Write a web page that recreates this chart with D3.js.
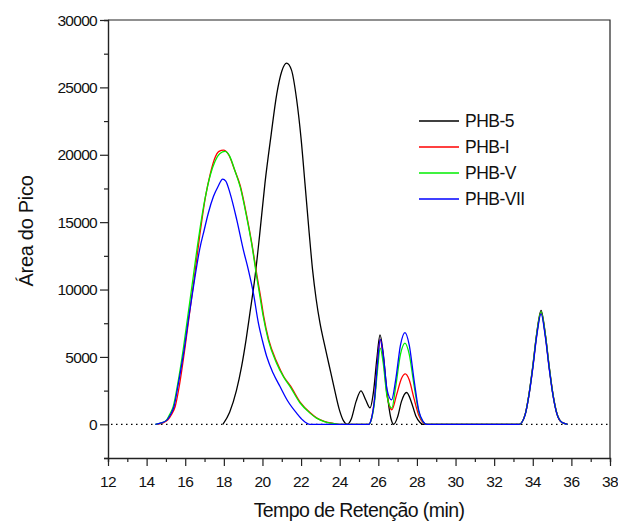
<!DOCTYPE html>
<html>
<head>
<meta charset="utf-8">
<script src="https://cdn.jsdelivr.net/npm/d3@7"></script>
<style>
  html, body { margin: 0; padding: 0; background: #fff; }
  svg { display: block; }
  text { font-family: Arial, "Liberation Sans", sans-serif; fill: #111; }
</style>
</head>
<body>
<svg id="chart" width="618" height="524"></svg>
<script>
// ---- data (retention time in min, peak area) ----
const seriesNames = ["PHB-5", "PHB-I", "PHB-V", "PHB-VII"];
const seriesColors = ["#000000", "#ff0000", "#00ee00", "#0000ff"];

const phb5 = [
  [17.95,0],[18.3,900],[18.65,2500],[18.92,4300],[19.15,6270],[19.35,8250],[19.61,10900],
  [19.85,14000],[20.13,17900],[20.45,21500],[20.74,24500],[21.0,26200],[21.25,26800],
  [21.5,26300],[21.77,24100],[22.0,21200],[22.2,17900],[22.42,14200],[22.6,11400],
  [22.78,9300],[22.98,7500],[23.2,6000],[23.45,4400],[23.7,2800],[24.0,1000],[24.2,250],[24.38,0],
  [24.6,400],[24.85,1700],[25.1,2480],[25.35,1800],[25.57,1220],[25.75,2400],[25.92,4800],
  [26.09,6640],[26.25,5300],[26.45,2400],[26.65,450],[26.8,0],[27.0,550],[27.2,1700],
  [27.47,2360],[27.7,1700],[27.95,600],[28.15,150],[28.3,0],[33.3,0],[33.6,700],[33.8,2200],
  [34.0,4300],[34.2,6700],[34.43,8450],[34.65,6700],[34.85,4300],[35.05,2200],[35.25,800],
  [35.5,150],[35.8,0]
];
const phbI = [
  [14.55,0],[14.85,100],[15.1,330],[15.3,750],[15.48,1320],[15.7,2900],[15.98,5600],
  [16.22,8200],[16.48,11000],[16.75,14000],[17.05,16900],[17.3,18600],
  [17.52,19700],[17.75,20250],[17.98,20350],[18.25,20000],[18.55,18900],[18.85,17700],
  [19.18,15500],[19.44,13500],[19.72,11000],[19.9,9500],[20.06,8050],[20.32,6300],
  [20.75,4600],[21.1,3550],[21.45,2850],[21.95,1650],[22.46,870],[22.8,480],[23.2,220],
  [23.65,70],[24.0,0],[25.5,0],[25.65,450],[25.8,1800],[25.95,4400],[26.1,6300],[26.25,5000],
  [26.45,2200],[26.7,1080],[26.95,2200],[27.2,3400],[27.4,3740],[27.6,3300],[27.85,1900],
  [28.1,650],[28.3,150],[28.5,0],[33.3,0],[33.6,700],[33.8,2150],[34.0,4200],[34.2,6600],
  [34.43,8300],[34.65,6600],[34.85,4200],[35.05,2150],[35.25,780],[35.5,150],[35.8,0]
];
const phbV = [
  [14.45,0],[14.75,100],[15.04,330],[15.2,750],[15.38,1320],[15.6,2900],[15.9,5600],
  [16.15,8200],[16.42,11000],[16.7,13900],[17.02,16700],[17.3,18500],
  [17.54,19500],[17.8,20100],[18.06,20250],[18.3,19900],[18.6,18700],[18.85,17600],
  [19.18,15400],[19.44,13400],[19.7,10960],[19.87,9480],[20.04,8000],[20.3,6270],
  [20.73,4540],[21.1,3500],[21.43,2800],[21.94,1600],[22.46,830],[22.8,460],[23.2,200],
  [23.65,60],[24.0,0],[25.5,0],[25.65,400],[25.8,1600],[25.95,3900],[26.1,5650],[26.25,4600],
  [26.45,2100],[26.7,1200],[26.9,2800],[27.15,5200],[27.38,6020],[27.6,5200],[27.85,2900],
  [28.1,900],[28.3,220],[28.5,0],[33.3,0],[33.6,700],[33.8,2170],[34.0,4250],[34.2,6650],
  [34.43,8350],[34.65,6650],[34.85,4250],[35.05,2170],[35.25,790],[35.5,150],[35.8,0]
];
const phbVII = [
  [14.45,0],[14.75,100],[15.06,330],[15.25,750],[15.42,1320],[15.63,2900],[15.95,5600],
  [16.2,8100],[16.5,10900],[16.75,13000],[16.98,14400],[17.2,15700],[17.46,16900],
  [17.7,17650],[17.94,18200],[18.1,18050],[18.32,17150],[18.67,15170],[19.01,12940],
  [19.27,11460],[19.53,9730],[19.79,7510],[20.0,6200],[20.22,5030],[20.55,3800],
  [20.91,2800],[21.3,1750],[21.77,830],[22.1,300],[22.46,0],[25.5,0],[25.65,450],
  [25.8,1800],[25.95,4400],[26.1,6300],[26.25,5200],[26.45,2600],[26.69,1820],[26.9,3300],
  [27.15,5900],[27.38,6810],[27.6,5900],[27.85,3300],[28.1,1000],[28.3,250],[28.5,0],
  [33.3,0],[33.6,680],[33.8,2120],[34.0,4150],[34.2,6500],[34.43,8200],[34.65,6500],
  [34.85,4150],[35.05,2120],[35.25,770],[35.5,150],[35.8,0]
];
const allSeries = [phb5, phbI, phbV, phbVII];

const xMajorTicks = [12,14,16,18,20,22,24,26,28,30,32,34,36,38];
const yMajorTicks = [0,5000,10000,15000,20000,25000,30000];

// ---- layout ----
const svg = d3.select("#chart");
const mLeft = 108, mRight = 610, mTop = 20, mBottom = 458;

const x = d3.scaleLinear().domain([12, 38]).range([mLeft, mRight]);
const y = d3.scaleLinear().domain([-2500, 30000]).range([mBottom, mTop]);

// frame (top and right)
svg.append("path")
  .attr("d", `M${mLeft},${mTop}H${mRight}V${mBottom}`)
  .attr("fill", "none").attr("stroke", "#222").attr("stroke-width", 1.2);

// x axis
const xAxis = svg.append("g").attr("transform", `translate(0,${mBottom})`);
xAxis.call(d3.axisBottom(x).tickValues(d3.range(12, 39, 1)).tickSize(4).tickFormat(""));
xAxis.call(g => g.selectAll(".tick").filter(d => d % 2 === 0).select("line").attr("y2", 8));
xAxis.selectAll(".tick text").remove();
xAxis.call(g => g.select(".domain").attr("stroke", "#222").attr("stroke-width", 1.4));
xAxis.selectAll(".tick line").attr("stroke", "#222").attr("stroke-width", 1.2);
xAxis.selectAll(".xlbl").data(xMajorTicks).enter().append("text")
  .attr("class", "xlbl")
  .attr("x", d => x(d)).attr("y", 29)
  .attr("text-anchor", "middle")
  .style("font-size", "15.5px").style("letter-spacing", "-0.6px")
  .text(d => d);

// y axis
const yAxis = svg.append("g").attr("transform", `translate(${mLeft},0)`);
yAxis.call(d3.axisLeft(y).tickValues(d3.range(-2500, 30001, 2500)).tickSize(4).tickFormat(""));
yAxis.call(g => g.selectAll(".tick").filter(d => d % 5000 === 0).select("line").attr("x2", -8));
yAxis.selectAll(".tick text").remove();
yAxis.call(g => g.select(".domain").attr("stroke", "#222").attr("stroke-width", 1.4));
yAxis.selectAll(".tick line").attr("stroke", "#222").attr("stroke-width", 1.2);
yAxis.selectAll(".ylbl").data(yMajorTicks).enter().append("text")
  .attr("class", "ylbl")
  .attr("x", -11).attr("y", d => y(d)).attr("dy", "0.36em")
  .attr("text-anchor", "end")
  .style("font-size", "15.5px").style("letter-spacing", "-0.7px")
  .text(d => d);

// axis titles
svg.append("text")
  .attr("x", (mLeft + mRight) / 2).attr("y", 517)
  .attr("text-anchor", "middle")
  .style("font-size", "19.5px").style("letter-spacing", "-0.6px")
  .text("Tempo de Retenção (min)");
svg.append("text")
  .attr("transform", `translate(33,${(mTop + mBottom) / 2 - 8}) rotate(-90)`)
  .attr("text-anchor", "middle")
  .style("font-size", "20px").style("letter-spacing", "-0.3px")
  .text("Área do Pico");

// dotted zero baseline
svg.append("line")
  .attr("x1", x(12) + 3).attr("x2", x(38))
  .attr("y1", y(0)).attr("y2", y(0))
  .attr("stroke", "#000").attr("stroke-width", 1.2)
  .attr("stroke-dasharray", "1.5,3.5");

// series lines
const line = d3.line().x(d => x(d[0])).y(d => y(d[1])).curve(d3.curveMonotoneX);
allSeries.forEach((s, i) => {
  svg.append("path")
    .datum(s)
    .attr("d", line)
    .attr("fill", "none")
    .attr("stroke", seriesColors[i])
    .attr("stroke-width", 1.3);
});

// legend
const lg = svg.append("g");
seriesNames.forEach((name, i) => {
  const ly = 121 + i * 26;
  lg.append("line")
    .attr("x1", 419).attr("x2", 459).attr("y1", ly).attr("y2", ly)
    .attr("stroke", seriesColors[i]).attr("stroke-width", 1.3);
  lg.append("text")
    .attr("x", 465).attr("y", ly).attr("dy", "0.36em")
    .style("font-size", "17.5px").style("letter-spacing", "-0.5px")
    .text(name);
});
</script>
</body>
</html>
